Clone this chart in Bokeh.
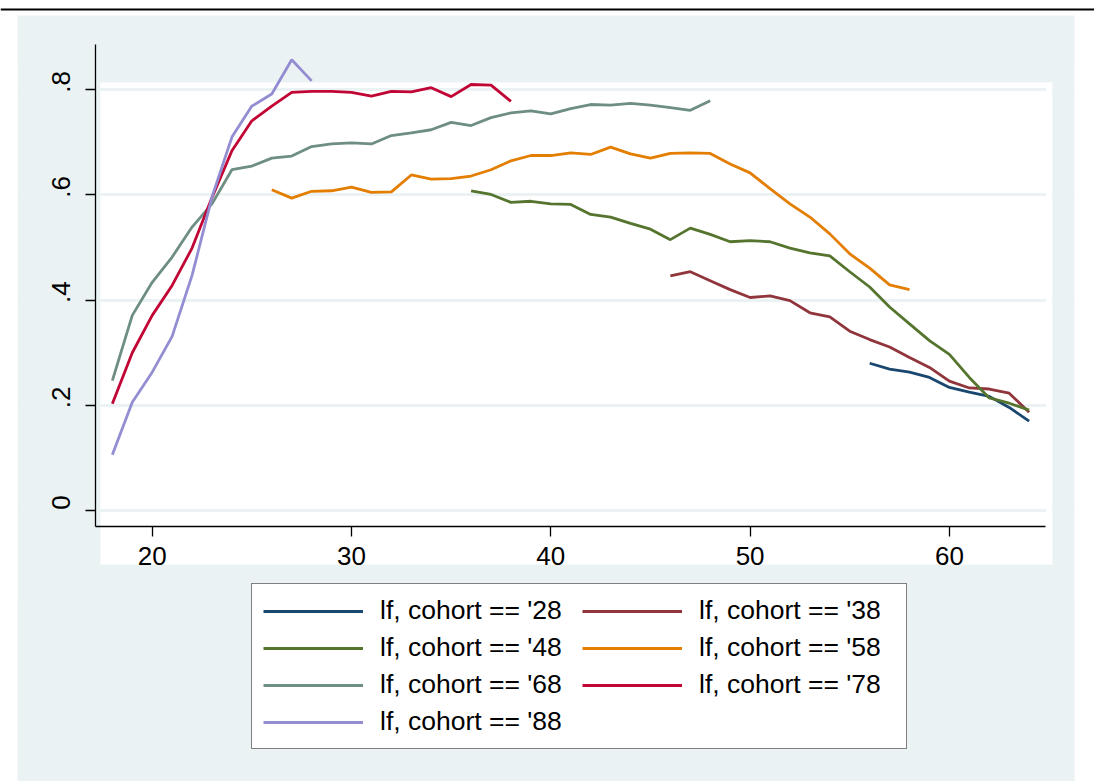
from bokeh.plotting import figure
from bokeh.models import (Range1d, BoxAnnotation, Legend, LegendItem,
                          FixedTicker, LinearAxis)
from bokeh.embed import file_html
from bokeh.resources import INLINE

# ---- data (labour-force participation by age, per birth cohort) ----
ages_28 = list(range(56, 65))
lf_28 = [0.280, 0.269, 0.263, 0.253, 0.234, 0.225, 0.217, 0.196, 0.170]

ages_38 = list(range(46, 65))
lf_38 = [0.446, 0.454, 0.437, 0.420, 0.405, 0.408, 0.399, 0.376, 0.368, 0.341,
         0.325, 0.311, 0.291, 0.272, 0.246, 0.233, 0.231, 0.223, 0.187]

ages_48 = list(range(36, 65))
lf_48 = [0.608, 0.601, 0.586, 0.588, 0.583, 0.582, 0.563, 0.558, 0.546, 0.535,
         0.515, 0.537, 0.525, 0.511, 0.513, 0.511, 0.499, 0.490, 0.484, 0.454,
         0.425, 0.387, 0.355, 0.323, 0.297, 0.253, 0.214, 0.204, 0.191]

ages_58 = list(range(26, 59))
lf_58 = [0.610, 0.594, 0.607, 0.608, 0.615, 0.605, 0.606, 0.638, 0.630, 0.631,
         0.636, 0.648, 0.665, 0.675, 0.675, 0.680, 0.677, 0.691, 0.678, 0.670,
         0.679, 0.680, 0.679, 0.659, 0.642, 0.612, 0.583, 0.558, 0.526, 0.488,
         0.461, 0.429, 0.420]

ages_68 = list(range(18, 49))
lf_68 = [0.247, 0.371, 0.434, 0.482, 0.539, 0.583, 0.648, 0.655, 0.670, 0.674,
         0.692, 0.697, 0.699, 0.697, 0.713, 0.718, 0.724, 0.738, 0.732, 0.747,
         0.756, 0.760, 0.754, 0.764, 0.772, 0.771, 0.774, 0.771, 0.766, 0.761,
         0.779]

ages_78 = list(range(18, 39))
lf_78 = [0.203, 0.300, 0.371, 0.428, 0.499, 0.595, 0.684, 0.741, 0.769, 0.795,
         0.797, 0.797, 0.795, 0.788, 0.797, 0.796, 0.804, 0.787, 0.810, 0.809,
         0.778]

ages_88 = list(range(18, 29))
lf_88 = [0.106, 0.206, 0.263, 0.331, 0.447, 0.596, 0.710, 0.769, 0.792, 0.857,
         0.817]

series_labels = ["lf, cohort == '28", "lf, cohort == '38", "lf, cohort == '48",
                 "lf, cohort == '58", "lf, cohort == '68", "lf, cohort == '78",
                 "lf, cohort == '88"]
series_colors = ["#1A476F", "#90353B", "#55752F", "#E37E00", "#6E8E84",
                 "#C10534", "#938DD2"]

x_ticks = [20, 30, 40, 50, 60]
y_ticks = [0, 0.2, 0.4, 0.6, 0.8]
y_tick_labels = ["0", ".2", ".4", ".6", ".8"]

BG = "#EAF2F3"
FONT = "Liberation Sans"
W, H = 1094, 781

# the frame covers the whole canvas; axes sit at fixed data locations
X0, X1 = 12.388, 67.281          # age at the canvas' left / right edge
Y0, Y1 = -0.51531, 0.96977       # value at the canvas' bottom / top edge
X_AXIS_AT = -0.02985             # value where the x axis is drawn
Y_AXIS_AT = 17.155               # age where the y axis is drawn
X_AXIS_END = 64.82
Y_AXIS_END = 0.886
LABEL_SHIFT = 0.0152             # y labels sit a little above their ticks

p = figure(width=W, height=H, output_backend="svg", toolbar_location=None,
           x_range=Range1d(X0, X1), y_range=Range1d(Y0, Y1), min_border=0)
p.background_fill_color = "white"
p.border_fill_color = "white"
p.outline_line_color = None


def canvas_box(l, r, t, b, color, level):
    return BoxAnnotation(left=l, right=r, top=t, bottom=b,
                         left_units="canvas", right_units="canvas",
                         top_units="canvas", bottom_units="canvas",
                         fill_color=color, fill_alpha=1, line_color=None,
                         level=level)


# rule at the top, graph region (light) and plot region (white)
p.add_layout(canvas_box(0, W, 8, 10, "black", "image"))
p.add_layout(canvas_box(17, 1074, 15, H, BG, "image"))
p.add_layout(canvas_box(100, 1052, 82, 564, "white", "image"))

p.xgrid.visible = False
p.ygrid.ticker = FixedTicker(ticks=y_ticks)
p.ygrid.grid_line_color = BG
p.ygrid.grid_line_width = 3

# keep grid lines inside the plot region
p.add_layout(canvas_box(0, 17, 60, 600, "white", "underlay"))
p.add_layout(canvas_box(1045.5, 1052, 82, 564, "white", "underlay"))
p.add_layout(canvas_box(1052, 1074, 60, 600, BG, "underlay"))
p.add_layout(canvas_box(1074, W, 60, 600, "white", "underlay"))

xa = p.xaxis[0]
ya = p.yaxis[0]
xa.fixed_location = X_AXIS_AT
ya.fixed_location = Y_AXIS_AT
xa.bounds = (Y_AXIS_AT, X_AXIS_END)
ya.bounds = (X_AXIS_AT, Y_AXIS_END)
xa.ticker = FixedTicker(ticks=x_ticks)
ya.ticker = FixedTicker(ticks=y_ticks)
ya.major_label_overrides = {t: "" for t in y_ticks}

for ax in (xa, ya):
    ax.axis_line_color = "black"
    ax.axis_line_width = 1.3
    ax.major_tick_line_color = "black"
    ax.major_tick_line_width = 1.3
    ax.major_tick_out = 10
    ax.major_tick_in = 0
    ax.minor_tick_line_color = None
    ax.major_label_text_font = FONT
    ax.major_label_text_font_size = "26px"
    ax.major_label_text_color = "black"
xa.major_label_standoff = 11

# y tick labels (rotated), drawn by a second axis without line or ticks
shifted = [t + LABEL_SHIFT for t in y_ticks]
ylab = LinearAxis(fixed_location=Y_AXIS_AT, ticker=FixedTicker(ticks=shifted),
                  major_label_overrides={s: l for s, l in zip(shifted, y_tick_labels)},
                  axis_line_color=None, major_tick_line_color=None,
                  minor_tick_line_color=None, major_tick_out=10, major_tick_in=0,
                  major_label_standoff=15, major_label_orientation="vertical",
                  major_label_text_font=FONT, major_label_text_font_size="26px",
                  major_label_text_color="black")
p.add_layout(ylab, "left")

all_x = [ages_28, ages_38, ages_48, ages_58, ages_68, ages_78, ages_88]
all_y = [lf_28, lf_38, lf_48, lf_58, lf_68, lf_78, lf_88]
items = []
for xs, ys, lab, col in zip(all_x, all_y, series_labels, series_colors):
    r = p.line(xs, ys, line_color=col, line_width=2.8)
    items.append(LegendItem(label=lab, renderers=[r]))

legend = Legend(items=items, ncols=2, orientation="horizontal",
                location=(251, 32),
                label_text_font=FONT, label_text_font_size="26.5px",
                label_text_color="black",
                glyph_width=100, glyph_height=20, label_standoff=17,
                label_width=196, label_height=20,
                padding=11, spacing=6, margin=0,
                border_line_color="black", border_line_width=1.3,
                background_fill_color="white", background_fill_alpha=1)
p.add_layout(legend, "center")

open("out.html", "w").write(file_html(p, INLINE))
